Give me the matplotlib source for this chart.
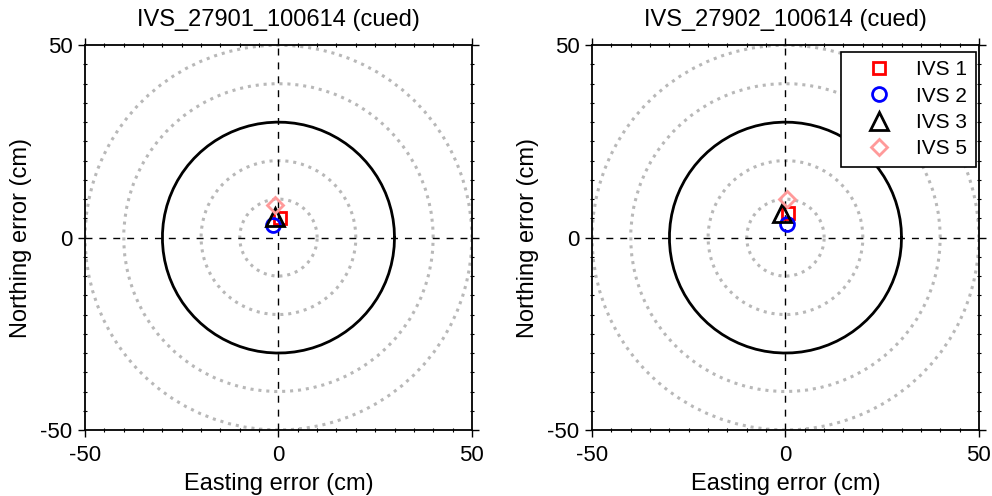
import numpy as np
import matplotlib.pyplot as plt
from matplotlib.ticker import MultipleLocator
#two target-error panels: receiver offsets vs range rings

plt.rcParams['font.family'] = ['Liberation Sans', 'DejaVu Sans']
plt.rcParams['axes.unicode_minus'] = False

titles = ["IVS_27901_100614 (cued)", "IVS_27902_100614 (cued)"]
labels = ["IVS 1", "IVS 2", "IVS 3", "IVS 5"]
#easting / northing errors (cm), one row per panel
east = [[0.5, -1.3, -1.0, -0.8],
        [0.7, 0.5, -1.0, 0.3]]
north = [[5.0, 3.3, 5.3, 8.5],
         [6.4, 3.5, 6.4, 10.0]]
ring_radii = [10, 20, 40, 50]
main_radius = 30

markers = ['s', 'o', '^', 'D']
colors = ['#ff0000', '#0000ff', '#000000', '#ff9a9a']
sizes = [9, 10, 13, 8]

fig = plt.figure(figsize=(9.92, 4.96), dpi=100)
lefts = [0.0857, 0.5968]
theta = np.linspace(0, 2 * np.pi, 80)

for i in range(2):
    ax = fig.add_axes([lefts[i], 0.133, 0.390, 0.776])
    for r in ring_radii:
        ax.plot(r * np.cos(theta), r * np.sin(theta), ls=(0, (1, 1.6)),
                color='#b8b8b8', lw=2.2)
    ax.plot(main_radius * np.cos(theta), main_radius * np.sin(theta),
            color='black', lw=2)
    ax.axhline(0, color='black', lw=1, ls=(0, (5, 5)))
    ax.axvline(0, color='black', lw=1, ls=(0, (5, 5)))
    for k in range(len(labels)):
        ax.plot(east[i][k], north[i][k], ls='none', marker=markers[k],
                ms=sizes[k], mfc='none', mec=colors[k], mew=2,
                label=labels[k])
    ax.set_xlim(-50, 50)
    ax.set_ylim(-50, 50)
    ax.set_xticks([-50, 0, 50])
    ax.set_yticks([-50, 0, 50])
    ax.xaxis.set_minor_locator(MultipleLocator(5))
    ax.yaxis.set_minor_locator(MultipleLocator(5))
    ax.tick_params(which='major', direction='out', length=5, width=1,
                   labelsize=16, top=True, right=True)
    ax.tick_params(axis='x', which='major', pad=6)
    ax.tick_params(axis='y', which='major', pad=4)
    ax.tick_params(which='minor', direction='inout', length=3, width=0.8,
                   top=True, right=True)
    for s in ax.spines.values():
        s.set_linewidth(1.3)
    ax.set_xlabel("Easting error (cm)", fontsize=17, labelpad=5)
    ax.set_ylabel("Northing error (cm)", fontsize=17, labelpad=6)
    ax.set_title(titles[i], fontsize=17, pad=14)
    if i == 1:
        leg = ax.legend(loc='upper right', bbox_to_anchor=(0.992, 0.982),
                        borderaxespad=0, fontsize=15, frameon=True,
                        fancybox=False, edgecolor='black', framealpha=1,
                        handletextpad=0.4, labelspacing=0.35,
                        handlelength=2.8, borderpad=0.4)
        leg.get_frame().set_linewidth(1.2)

fig.savefig("out.png", dpi=100)
